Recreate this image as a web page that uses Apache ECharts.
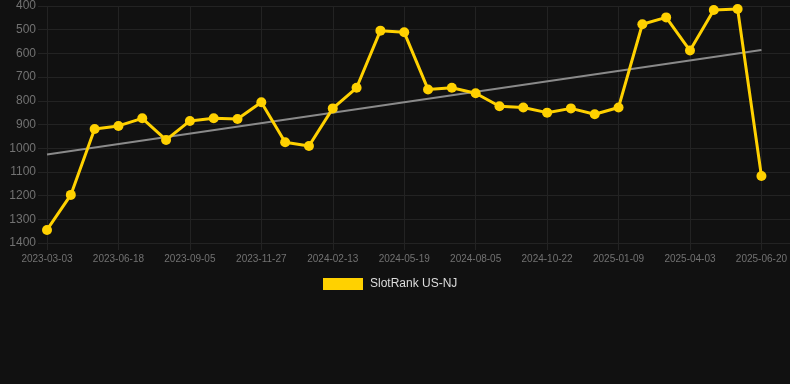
<!DOCTYPE html>
<html>
<head>
<meta charset="utf-8">
<script src="https://cdn.jsdelivr.net/npm/echarts@6/dist/echarts.min.js"></script>
<style>
html,body{margin:0;padding:0;background:#111111;}
#chart{width:790px;height:384px;}
</style>
</head>
<body>
<div id="chart"></div>
<script>
var categories = [
  '2023-03-03','2023-04-08','2023-05-14','2023-06-18','2023-07-14','2023-08-09',
  '2023-09-05','2023-10-02','2023-10-30','2023-11-27','2023-12-24','2024-01-19',
  '2024-02-13','2024-03-15','2024-04-17','2024-05-19','2024-06-14','2024-07-10',
  '2024-08-05','2024-08-31','2024-09-26','2024-10-22','2024-11-17','2024-12-14',
  '2025-01-09','2025-02-06','2025-03-06','2025-04-03','2025-04-29','2025-05-25',
  '2025-06-20'
];
var rankValues = [
  1345, 1197, 919, 906, 874, 965,
  885, 874, 877, 806, 975, 991,
  832, 745, 504, 511, 752, 745,
  768, 823, 828, 850, 832, 857,
  828, 477, 448, 588, 417, 413,
  1117
];
var trendStart = 1027;
var trendEnd = 586;
var yTicks = [400, 1400, 100]; // min, max, interval

var gridColor = '#232323';
var labelColor = '#727272';
var gold = '#FFD100';

var chart = echarts.init(document.getElementById('chart'));
chart.setOption({
  backgroundColor: '#111111',
  animation: false,
  legend: {
    data: ['SlotRank US-NJ'],
    top: 273,
    left: 318,
    icon: 'rect',
    itemWidth: 40,
    itemHeight: 12,
    textStyle: { color: '#dddddd', fontSize: 12, padding: [0, 0, 0, 2], fontFamily: 'Liberation Sans, Arial, sans-serif' }
  },
  grid: [
    { left: 47, right: 28, top: 6, bottom: 141 },
    { left: 38, right: 0, top: 6, bottom: 141 }
  ],
  xAxis: [
    {
      type: 'category',
      gridIndex: 0,
      data: categories,
      boundaryGap: false,
      axisLine: { show: false },
      axisTick: { show: true, interval: 2, length: 7, lineStyle: { color: gridColor } },
      axisLabel: { interval: 2, color: labelColor, fontSize: 10, margin: 11, fontFamily: 'Liberation Sans, Arial, sans-serif' },
      splitLine: { show: true, interval: 2, lineStyle: { color: gridColor, width: 1 } }
    },
    {
      type: 'value', gridIndex: 1, show: false, min: 0, max: 1
    }
  ],
  yAxis: [
    {
      type: 'value', gridIndex: 0, inverse: true,
      min: yTicks[0], max: yTicks[1], interval: yTicks[2],
      show: false, splitLine: { show: false }
    },
    {
      type: 'value', gridIndex: 1, inverse: true,
      min: yTicks[0], max: yTicks[1], interval: yTicks[2],
      axisLine: { show: false },
      axisTick: { show: false },
      axisLabel: { color: labelColor, fontSize: 12, margin: 2, formatter: function (v) { return String(v); }, fontFamily: 'Liberation Sans, Arial, sans-serif' },
      splitLine: { show: true, lineStyle: { color: gridColor, width: 1 } }
    }
  ],
  series: [
    {
      name: 'Trend',
      type: 'line',
      xAxisIndex: 0, yAxisIndex: 0,
      data: [[categories[0], trendStart], [categories[categories.length - 1], trendEnd]],
      symbol: 'none',
      lineStyle: { color: '#8a8a8a', width: 2 },
      z: 1
    },
    {
      name: 'SlotRank US-NJ',
      type: 'line',
      xAxisIndex: 0, yAxisIndex: 0,
      data: rankValues,
      symbol: 'circle',
      symbolSize: 10,
      itemStyle: { color: gold },
      lineStyle: { color: gold, width: 3 },
      z: 3
    }
  ]
});
</script>
</body>
</html>
